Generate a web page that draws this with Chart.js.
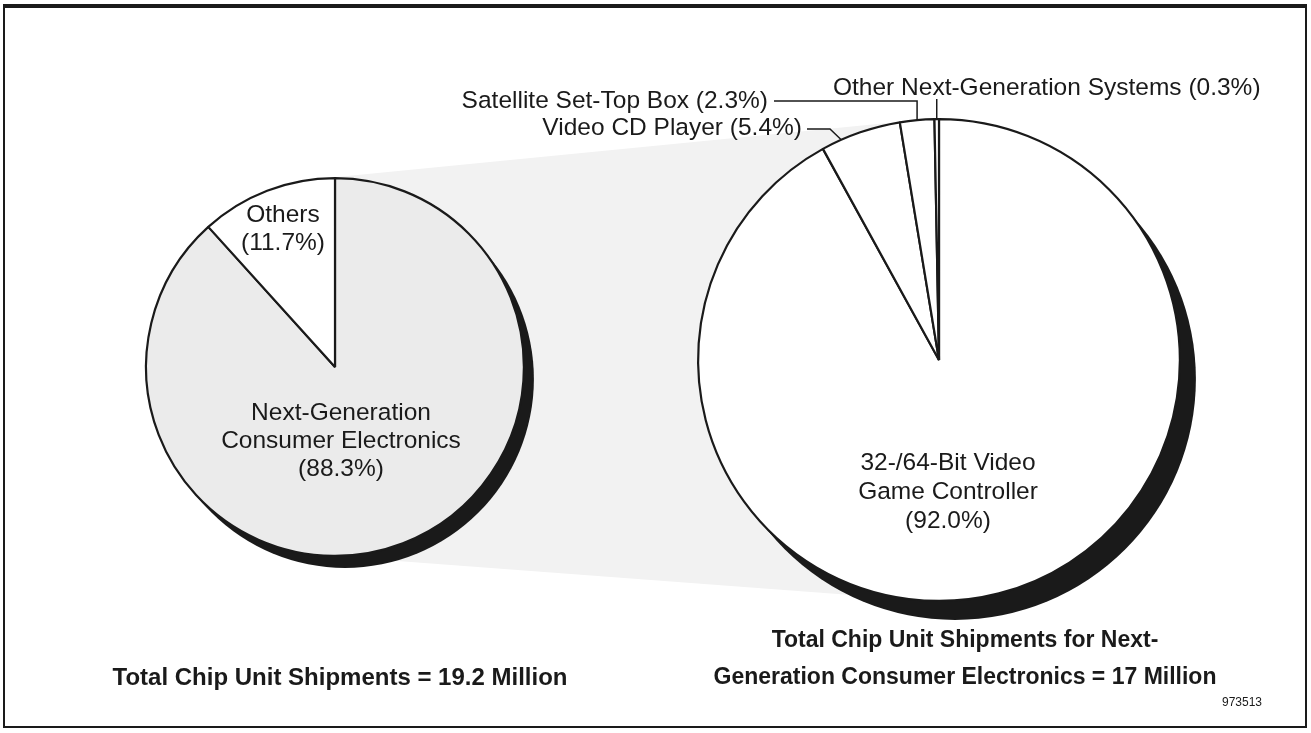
<!DOCTYPE html>
<html>
<head>
<meta charset="utf-8">
<script src="https://cdn.jsdelivr.net/npm/chart.js@4.4.0/dist/chart.umd.min.js"></script>
<style>
  html, body { margin: 0; padding: 0; background: #fff; }
  #page { position: relative; width: 1311px; height: 733px; overflow: hidden;
          font-family: 'Liberation Sans', Arial, sans-serif; color: #1a1a1a; }
  #frame { position: absolute; left: 3px; top: 4px; width: 1304px; height: 724px;
           box-sizing: border-box; border: 2px solid #1a1a1a; border-top-width: 4px; }
  canvas { position: absolute; left: 0; top: 0; }
  .cap { position: absolute; font-weight: bold; font-size: 24px; text-align: center; line-height: 37px; }
  #code { position: absolute; left: 1222px; top: 695px; font-size: 12px; }
</style>
</head>
<body>
<div id="page">
  <div id="frame"></div>
  <canvas id="overviewPie" width="1311" height="733"></canvas>
  <canvas id="nextGenPie" width="1311" height="733"></canvas>
  <div class="cap" style="left:90px; top:658px; width:500px;">Total Chip Unit Shipments = 19.2 Million</div>
  <div class="cap" style="left:700px; top:621px; width:530px; font-size:23px;">Total Chip Unit Shipments for Next-<br>Generation Consumer Electronics = 17 Million</div>
  <div id="code">973513</div>
</div>
<script>
  // shares of total chip unit shipments (19.2 million)
  const overviewLabels = [['Next-Generation', 'Consumer Electronics'], ['Others']];
  const overviewShares = [88.3, 11.7];

  // breakdown of next-generation consumer electronics (17 million)
  const nextGenLabels = [['32-/64-Bit Video', 'Game Controller'], ['Video CD Player'], ['Satellite Set-Top Box'], ['Other Next-Generation Systems']];
  const nextGenShares = [92.0, 5.4, 2.3, 0.3];

  const FONT = '24.5px "Liberation Sans", Arial, sans-serif';
  const INK = '#1a1a1a';

  // black crescent behind each pie
  const shadowPlugin = {
    id: 'pieShadow',
    beforeDatasetsDraw(chart, args, opts) {
      const arc = chart.getDatasetMeta(0).data[0];
      if (!arc) return;
      const ctx = chart.ctx;
      ctx.save();
      ctx.fillStyle = INK;
      ctx.beginPath();
      ctx.arc(arc.x + opts.dx, arc.y + opts.dy, arc.outerRadius, 0, Math.PI * 2);
      ctx.fill();
      ctx.restore();
    }
  };

  // shaded band that links the "next-generation" slice to the breakdown pie
  const bandPlugin = {
    id: 'zoomBand',
    beforeDatasetsDraw(chart, args, opts) {
      const target = opts.target && opts.target();
      if (!target) return;
      const a = chart.getDatasetMeta(0).data[0];
      const b = target.getDatasetMeta(0).data[0];
      const dx = b.x - a.x, dy = b.y - a.y;
      const dist = Math.hypot(dx, dy);
      const ux = dx / dist, uy = dy / dist;
      const c = (a.outerRadius - b.outerRadius) / dist;
      const s = Math.sqrt(1 - c * c);
      const normals = [
        { x: c * ux - s * uy, y: c * uy + s * ux },
        { x: c * ux + s * uy, y: c * uy - s * ux }
      ].sort((p, q) => p.y - q.y);
      const [top, bot] = normals;
      const ctx = chart.ctx;
      ctx.save();
      ctx.fillStyle = opts.color;
      ctx.beginPath();
      ctx.moveTo(a.x + a.outerRadius * top.x, a.y + a.outerRadius * top.y);
      ctx.lineTo(b.x + b.outerRadius * top.x, b.y + b.outerRadius * top.y);
      ctx.lineTo(b.x + b.outerRadius * bot.x, b.y + b.outerRadius * bot.y);
      ctx.lineTo(a.x + a.outerRadius * bot.x, a.y + a.outerRadius * bot.y);
      ctx.closePath();
      ctx.fill();
      ctx.restore();
    }
  };

  // slice names with their percentages, inside or with leader lines
  const sliceTextPlugin = {
    id: 'sliceText',
    afterDatasetsDraw(chart, args, opts) {
      const ctx = chart.ctx;
      const meta = chart.getDatasetMeta(0);
      const labels = chart.data.labels;
      const values = chart.data.datasets[0].data;
      ctx.save();
      ctx.font = FONT;
      ctx.fillStyle = INK;
      ctx.strokeStyle = INK;
      ctx.lineWidth = 1.5;
      ctx.textBaseline = 'middle';
      opts.items.forEach(item => {
        const pct = '(' + values[item.index].toFixed(1) + '%)';
        const arc = meta.data[item.index];
        if (!item.leader) {
          const lines = labels[item.index].concat([pct]);
          ctx.textAlign = 'center';
          lines.forEach((line, i) => ctx.fillText(line, item.x, item.y + i * opts.lineHeight));
          return;
        }
        ctx.textAlign = item.align;
        ctx.fillText(labels[item.index].join(' ') + ' ' + pct, item.x, item.y);
        const ang = arc.startAngle + (arc.endAngle - arc.startAngle) * item.at;
        const px = arc.x + arc.outerRadius * Math.cos(ang);
        const py = arc.y + arc.outerRadius * Math.sin(ang);
        ctx.beginPath();
        if (item.leader === 'up') {
          ctx.moveTo(px, py);
          ctx.lineTo(px, item.y + 11);
        } else if (item.leader === 'elbow') {
          ctx.moveTo(item.x + 6, item.y);
          ctx.lineTo(px, item.y);
          ctx.lineTo(px, py);
        } else {
          ctx.moveTo(item.x + 5, item.y + 1);
          ctx.lineTo(item.kneeX, item.y + 1);
          ctx.lineTo(px, py);
        }
        ctx.stroke();
      });
      ctx.restore();
    }
  };

  function pieOptions(padding, extra) {
    return {
      responsive: false,
      animation: false,
      events: [],
      layout: { padding: padding },
      plugins: Object.assign({
        legend: { display: false },
        tooltip: { enabled: false }
      }, extra)
    };
  }

  const nextGenChart = new Chart(document.getElementById('nextGenPie'), {
    type: 'pie',
    data: {
      labels: nextGenLabels,
      datasets: [{
        data: nextGenShares,
        backgroundColor: '#ffffff',
        borderColor: INK,
        borderWidth: 2.2
      }]
    },
    options: pieOptions({ left: 697, right: 130, top: 118, bottom: 131 }, {
      pieShadow: { dx: 16, dy: 19 },
      sliceText: {
        lineHeight: 29,
        items: [
          { index: 0, x: 948, y: 463 },
          { index: 1, x: 802, y: 128, align: 'right', leader: 'diag', at: 0.25, kneeX: 830 },
          { index: 2, x: 768, y: 101, align: 'right', leader: 'elbow', at: 0.5 },
          { index: 3, x: 833, y: 88, align: 'left', leader: 'up', at: 0.5 }
        ]
      }
    }),
    plugins: [shadowPlugin, sliceTextPlugin]
  });

  new Chart(document.getElementById('overviewPie'), {
    type: 'pie',
    data: {
      labels: overviewLabels,
      datasets: [{
        data: overviewShares,
        backgroundColor: ['#ebebeb', '#ffffff'],
        borderColor: INK,
        borderWidth: 2.2
      }]
    },
    options: pieOptions({ left: 145, right: 786, top: 177, bottom: 176 }, {
      zoomBand: { color: '#f2f2f2', target: () => nextGenChart },
      pieShadow: { dx: 10, dy: 12 },
      sliceText: {
        lineHeight: 28,
        items: [
          { index: 0, x: 341, y: 413 },
          { index: 1, x: 283, y: 215 }
        ]
      }
    }),
    plugins: [bandPlugin, shadowPlugin, sliceTextPlugin]
  });
</script>
</body>
</html>
